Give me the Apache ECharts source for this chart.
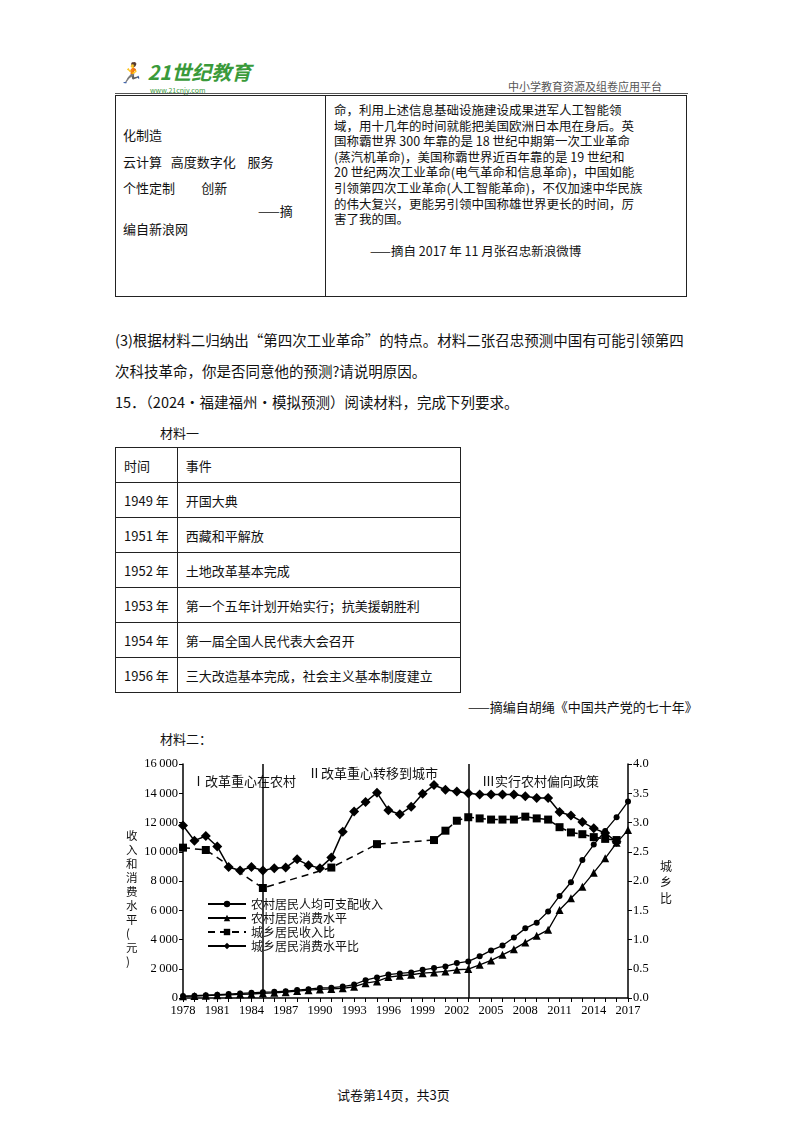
<!DOCTYPE html>
<html><head><meta charset="utf-8">
<script src="https://cdn.jsdelivr.net/npm/echarts@6/dist/echarts.min.js"></script>
<style>
body{margin:0;width:800px;height:1132px;background:#fff;font-family:"Noto Sans CJK SC",sans-serif;color:#111;position:relative}
.a{position:absolute;white-space:nowrap}
.t1{position:absolute;left:115px;top:95px;width:572px;height:202px;border:1.5px solid #222;box-sizing:border-box}
.t1 .div{position:absolute;left:209px;top:0;bottom:0;border-left:1.5px solid #222}
.r{font-size:12.5px;line-height:15.6px}
table.t2{position:absolute;left:115px;top:447px;border-collapse:collapse;font-size:13px}
table.t2 td{border:1px solid #222;height:34px;padding:0 8px;white-space:nowrap}
</style></head><body>
<div class="a" style="left:118px;top:60px;font-size:20px;line-height:24px;font-weight:bold;color:#3a9a3a;font-style:italic">🏃 21世纪教育</div>
<div class="a" style="left:150px;top:86px;font-size:7px;line-height:8px;color:#3a9a3a">www.21cnjy.com</div>
<div class="a" style="left:508px;top:78px;font-size:11px;color:#555">中小学教育资源及组卷应用平台</div>
<div class="a" style="left:115px;top:93px;width:573px;border-top:1.5px solid #555"></div>
<div class="t1"><div class="div"></div></div>
<div class="a" style="left:123px;top:122px;font-size:13px;line-height:26.5px">化制造<br>云计算&nbsp;&nbsp;&nbsp;高度数字化&nbsp;&nbsp;&nbsp;&nbsp;服务<br>个性定制&nbsp;&nbsp;&nbsp;&nbsp;&nbsp;&nbsp;&nbsp;&nbsp;&nbsp;创新</div>
<div class="a" style="left:258px;top:201px;font-size:13px">——摘</div>
<div class="a" style="left:123px;top:219px;font-size:13px">编自新浪网</div>
<div class="a r" style="left:334px;top:102px">命，利用上述信息基础设施建设成果进军人工智能领<br>域，用十几年的时间就能把美国欧洲日本甩在身后。英<br>国称霸世界 300 年靠的是 18 世纪中期第一次工业革命<br>(蒸汽机革命)，美国称霸世界近百年靠的是 19 世纪和<br>20 世纪两次工业革命(电气革命和信息革命)，中国如能<br>引领第四次工业革命(人工智能革命)，不仅加速中华民族<br>的伟大复兴，更能另引领中国称雄世界更长的时间，厉<br>害了我的国。</div>
<div class="a" style="left:370px;top:241px;font-size:12.5px">——摘自 2017 年 11 月张召忠新浪微博</div>
<div class="a" style="left:115px;top:329px;font-size:14.5px">(3)根据材料二归纳出“第四次工业革命”的特点。材料二张召忠预测中国有可能引领第四</div>
<div class="a" style="left:115px;top:360px;font-size:14.5px">次科技革命，你是否同意他的预测?请说明原因。</div>
<div class="a" style="left:115px;top:391px;font-size:14.5px">15．（2024·福建福州·模拟预测）阅读材料，完成下列要求。</div>
<div class="a" style="left:160px;top:423px;font-size:13px">材料一</div>
<table class="t2">
<tr><td style="width:40px">时间</td><td style="width:266px">事件</td></tr>
<tr><td>1949 年</td><td>开国大典</td></tr>
<tr><td>1951 年</td><td>西藏和平解放</td></tr>
<tr><td>1952 年</td><td>土地改革基本完成</td></tr>
<tr><td>1953 年</td><td>第一个五年计划开始实行；抗美援朝胜利</td></tr>
<tr><td>1954 年</td><td>第一届全国人民代表大会召开</td></tr>
<tr><td>1956 年</td><td>三大改造基本完成，社会主义基本制度建立</td></tr>
</table>
<div class="a" style="left:468px;top:697px;font-size:13px">——摘编自胡绳《中国共产党的七十年》</div>
<div class="a" style="left:160px;top:729px;font-size:13px">材料二：</div>
<div id="chart" class="a" style="left:120px;top:745px;width:590px;height:290px"></div>
<div class="a" style="left:337px;top:1085px;font-size:13px">试卷第14页，共3页</div>
<script>
const years = [];
for (let y = 1978; y <= 2017; y++) years.push(String(y));
const ruralIncome = [134,160,191,223,270,310,355,398,424,463,545,602,686,709,784,922,1221,1410,1600,1680,1750,1930,2050,2160,2390,2500,2850,3255,3587,4140,4761,5153,5919,6977,7917,9430,10489,11422,12363,13432];
const ruralConsumption = [116,134,162,191,220,248,274,317,357,398,477,535,585,620,659,770,1016,1136,1430,1520,1590,1700,1750,1820,1930,1977,2270,2570,2950,3340,3800,4250,4660,6020,6820,7610,8570,9550,10610,11480];
const incomeRatio = [2.57,null,2.53,null,null,null,null,1.88,null,null,null,null,null,2.23,null,null,null,2.63,null,null,null,null,2.7,2.86,3.03,3.09,3.07,3.05,3.05,3.05,3.1,3.07,3.05,2.92,2.83,2.8,2.75,2.72,2.7,null];
const consumptionRatio = [2.95,2.69,2.77,2.59,2.24,2.18,2.24,2.18,2.22,2.23,2.37,2.27,2.22,2.40,2.84,3.19,3.35,3.51,3.21,3.14,3.27,3.49,3.64,3.56,3.53,3.5,3.48,3.48,3.48,3.48,3.45,3.42,3.42,3.18,3.12,3.01,2.9,2.82,2.67,null];

const chart = echarts.init(document.getElementById('chart'));
const font = '"Liberation Serif", "Noto Sans CJK SC", serif';
const txt = (x, y, s) => ({type:'text', left:x, top:y, style:{text:s, font:'13px "Noto Sans CJK SC"', fill:'#111'}});
chart.setOption({
  animation:false,
  grid:{left:63, right:82, top:19, bottom:37},
  xAxis:{type:'category', data:years, boundaryGap:false,
    axisLine:{lineStyle:{color:'#000', width:1.5}},
    axisTick:{interval:0, length:4, lineStyle:{color:'#000'}},
    axisLabel:{interval:2, color:'#000', fontSize:12.5, fontFamily:font, margin:6}},
  yAxis:[
    {type:'value', min:0, max:16000, interval:2000, splitLine:{show:false},
      axisLine:{show:true, lineStyle:{color:'#000', width:1.5}},
      axisTick:{show:true, length:4, lineStyle:{color:'#000'}},
      axisLabel:{color:'#000', fontSize:12.5, fontFamily:font, margin:5,
        formatter:v => v >= 1000 ? Math.floor(v/1000) + '\u2009' + String(v%1000).padStart(3,'0') : String(v)}},
    {type:'value', min:0, max:4, interval:0.5, splitLine:{show:false},
      axisLine:{show:true, lineStyle:{color:'#000', width:1.5}},
      axisTick:{show:true, length:4, lineStyle:{color:'#000'}},
      axisLabel:{color:'#000', fontSize:12.5, fontFamily:font, margin:5, formatter:v => v.toFixed(1)}}
  ],
  legend:{orient:'vertical', left:82, top:148, itemGap:2, itemWidth:38, itemHeight:8,
    textStyle:{fontSize:12, color:'#111', fontFamily:'"Noto Sans CJK SC"'},
    data:['农村居民人均可支配收入','农村居民消费水平','城乡居民收入比','城乡居民消费水平比']},
  series:[
    {name:'农村居民人均可支配收入', type:'line', data:ruralIncome, symbol:'circle', symbolSize:6, showAllSymbol:true,
      itemStyle:{color:'#000'}, lineStyle:{color:'#000', width:1.3},
      markLine:{symbol:'none', silent:true, label:{show:false}, lineStyle:{color:'#000', width:1.5, type:'solid'},
        data:[{xAxis:'1985'},{xAxis:'2003'}]}},
    {name:'农村居民消费水平', type:'line', data:ruralConsumption, symbol:'triangle', symbolSize:8, showAllSymbol:true,
      itemStyle:{color:'#000'}, lineStyle:{color:'#000', width:1.3}},
    {name:'城乡居民收入比', type:'line', yAxisIndex:1, data:incomeRatio, connectNulls:true, symbol:'rect', symbolSize:8, showAllSymbol:true,
      itemStyle:{color:'#000'}, lineStyle:{color:'#000', width:1.5, type:[7,5]}},
    {name:'城乡居民消费水平比', type:'line', yAxisIndex:1, data:consumptionRatio, symbol:'diamond', symbolSize:10, showAllSymbol:true,
      itemStyle:{color:'#000'}, lineStyle:{color:'#000', width:1.5}}
  ],
  graphic:[
    txt(72, 30, 'Ⅰ改革重心在农村'),
    txt(188, 22, 'Ⅱ改革重心转移到城市'),
    txt(362, 30, 'Ⅲ实行农村偏向政策'),
    {type:'text', left:6, top:84, style:{text:'收\n入\n和\n消\n费\n水\n平\n(\n元\n)', font:'11.5px "Noto Sans CJK SC"', fill:'#111', lineHeight:14}},
    {type:'text', left:540, top:113, style:{text:'城\n乡\n比', font:'12px "Noto Sans CJK SC"', fill:'#111', lineHeight:16}}
  ]
});
</script>
</body></html>
